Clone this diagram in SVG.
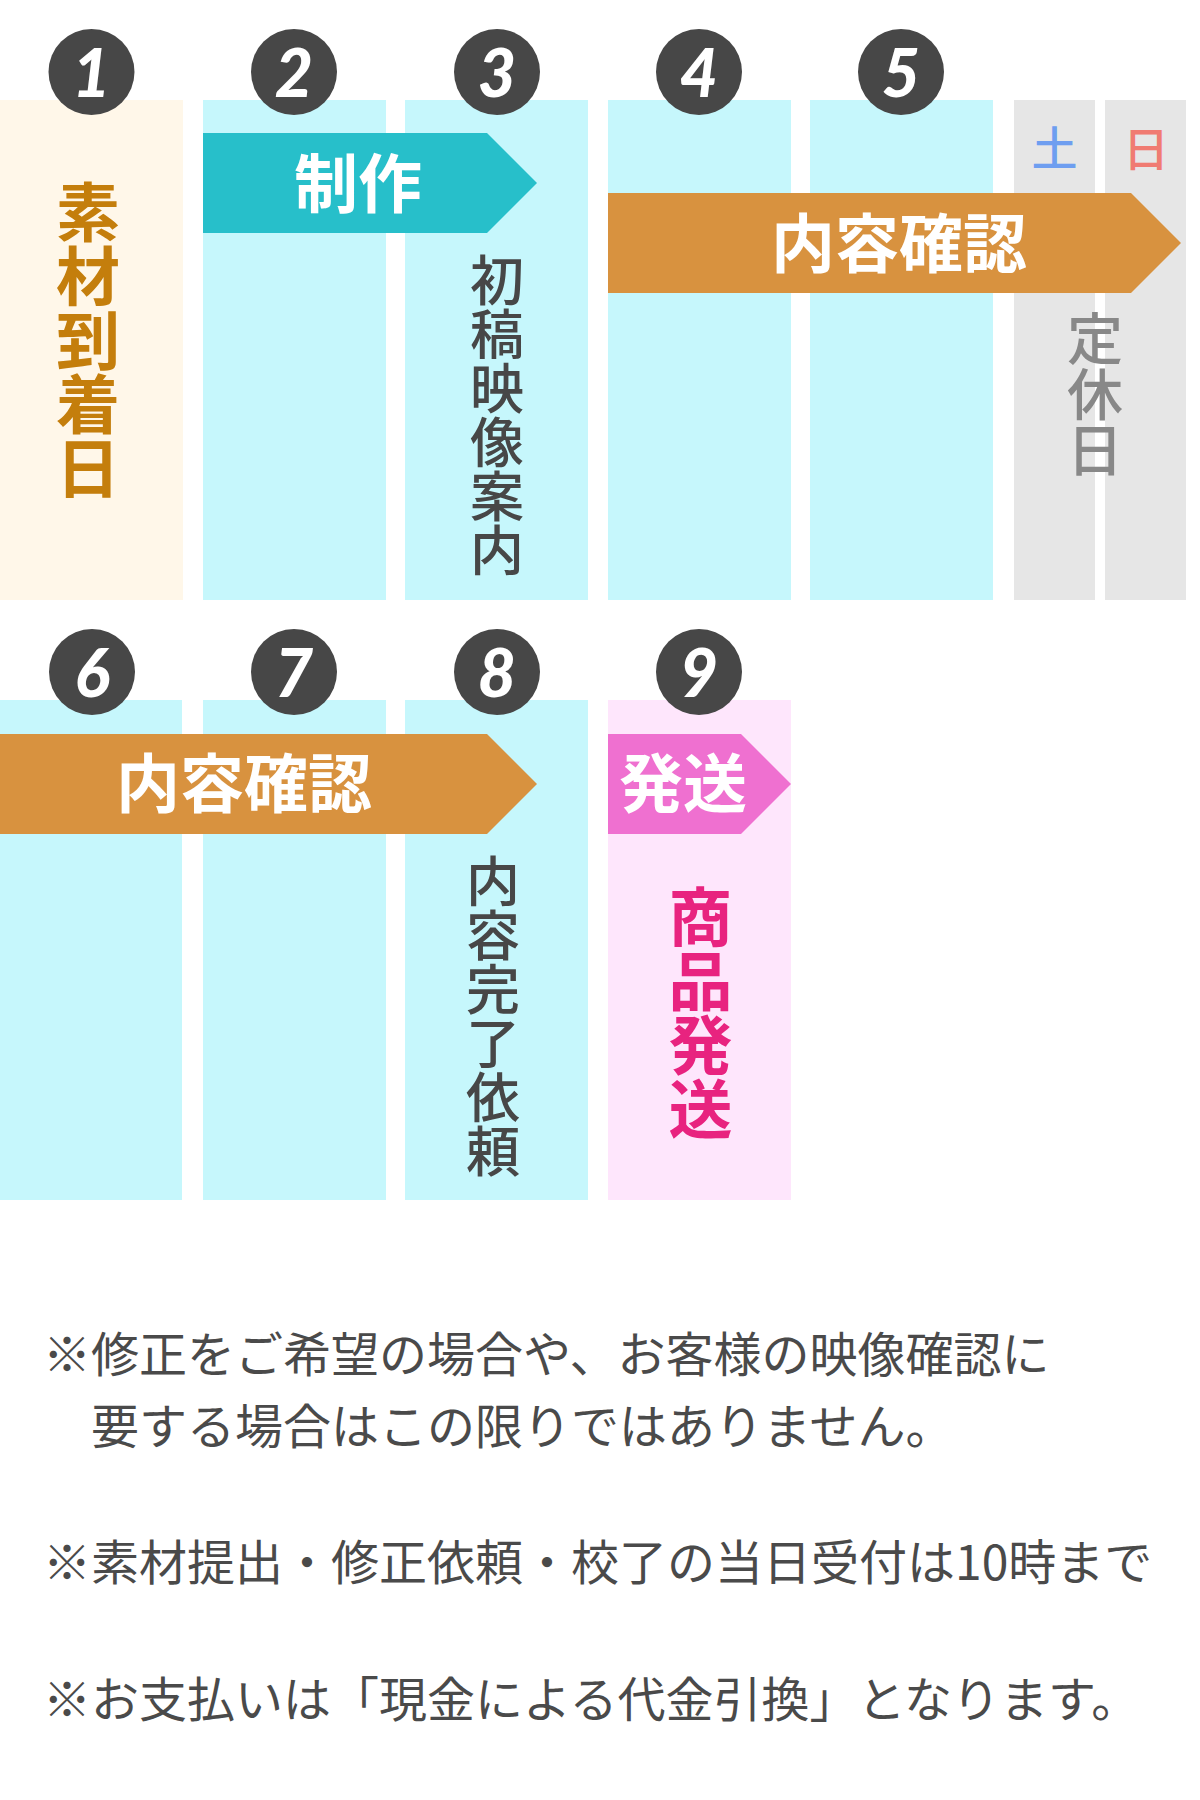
<svg xmlns="http://www.w3.org/2000/svg" width="1200" height="1800" viewBox="0 0 1200 1800">
<style>
.cyan{fill:#c6f7fc}
.beige{fill:#fff7e9}
.pinkcol{fill:#fee6fc}
.gray{fill:#e6e6e6}
.circ{fill:#474747}
.num{font-family:"Lato","Open Sans",sans-serif;font-weight:900;font-style:italic;font-size:66px;fill:#ffffff;text-anchor:middle}
.jp{font-family:"Noto Sans CJK JP","Noto Sans",sans-serif;text-anchor:middle}
.band{font-size:64px;font-weight:700;fill:#ffffff}
.vbold{font-size:64px;font-weight:700}
.vmed{font-size:54px;font-weight:500;fill:#474747}
.note{font-family:"Noto Sans CJK JP","Noto Sans",sans-serif;font-size:48px;font-weight:400;fill:#4a4a4a}
</style>
<rect width="1200" height="1800" fill="#ffffff"/>

<g id="columns-row1">
  <rect class="beige" x="0" y="100" width="183" height="500"/>
  <rect class="cyan" x="203" y="100" width="183" height="500"/>
  <rect class="cyan" x="405" y="100" width="183" height="500"/>
  <rect class="cyan" x="608" y="100" width="183" height="500"/>
  <rect class="cyan" x="810" y="100" width="183" height="500"/>
  <rect class="gray" x="1014" y="100" width="81" height="500"/>
  <rect class="gray" x="1105" y="100" width="81" height="500"/>
</g>
<g id="columns-row2">
  <rect class="cyan" x="0" y="700" width="182" height="500"/>
  <rect class="cyan" x="203" y="700" width="183" height="500"/>
  <rect class="cyan" x="405" y="700" width="183" height="500"/>
  <rect class="pinkcol" x="608" y="700" width="183" height="500"/>
</g>

<g id="step1"><circle class="circ" cx="91.5" cy="72" r="43"/><text class="num" x="91.5" y="97">1</text></g>
<g id="step2"><circle class="circ" cx="294" cy="72" r="43"/><text class="num" x="294" y="97">2</text></g>
<g id="step3"><circle class="circ" cx="497" cy="72" r="43"/><text class="num" x="497" y="97">3</text></g>
<g id="step4"><circle class="circ" cx="699" cy="72" r="43"/><text class="num" x="699" y="97">4</text></g>
<g id="step5"><circle class="circ" cx="901" cy="72" r="43"/><text class="num" x="901" y="97">5</text></g>
<g id="step6"><circle class="circ" cx="92" cy="672" r="43"/><text class="num" x="92" y="697">6</text></g>
<g id="step7"><circle class="circ" cx="294" cy="672" r="43"/><text class="num" x="294" y="697">7</text></g>
<g id="step8"><circle class="circ" cx="497" cy="672" r="43"/><text class="num" x="497" y="697">8</text></g>
<g id="step9"><circle class="circ" cx="699" cy="672" r="43"/><text class="num" x="699" y="697">9</text></g>

<g id="label-sozai">
  <text class="jp vbold" fill="#c47e0c"><tspan x="88" y="236">素</tspan><tspan x="88" y="300">材</tspan><tspan x="88" y="364">到</tspan><tspan x="88" y="428">着</tspan><tspan x="88" y="492">日</tspan></text>
</g>
<g id="label-shokou">
  <text class="jp vmed"><tspan x="497" y="301">初</tspan><tspan x="497" y="355">稿</tspan><tspan x="497" y="409">映</tspan><tspan x="497" y="463">像</tspan><tspan x="497" y="517">案</tspan><tspan x="497" y="571">内</tspan></text>
</g>
<g id="label-holiday">
  <text class="jp" font-size="46" font-weight="500" fill="#6e9ef0" x="1054.5" y="165">土</text>
  <text class="jp" font-size="46" font-weight="500" fill="#f07b72" x="1146" y="166">日</text>
  <text class="jp" font-size="56" font-weight="500" fill="#888888"><tspan x="1095" y="359">定</tspan><tspan x="1095" y="415">休</tspan><tspan x="1095" y="471">日</tspan></text>
</g>
<g id="label-kanryo">
  <text class="jp vmed"><tspan x="493" y="902">内</tspan><tspan x="493" y="956">容</tspan><tspan x="493" y="1010">完</tspan><tspan x="493" y="1064">了</tspan><tspan x="493" y="1118">依</tspan><tspan x="493" y="1172">頼</tspan></text>
</g>
<g id="label-shohin">
  <text class="jp vbold" fill="#e8237f" font-size="62"><tspan x="700.5" y="941">商</tspan><tspan x="700.5" y="1005">品</tspan><tspan x="700.5" y="1069">発</tspan><tspan x="700.5" y="1133">送</tspan></text>
</g>

<g id="connectors">
  <g id="arrow-seisaku">
    <polygon points="203,133 487,133 537,183 487,233 203,233" fill="#27bfca"/>
    <text class="jp band" x="358" y="207">制作</text>
  </g>
  <g id="arrow-kakunin1">
    <polygon points="608,193 1131,193 1181,243 1131,293 608,293" fill="#d8923f"/>
    <text class="jp band" x="899" y="267">内容確認</text>
  </g>
  <g id="arrow-kakunin2">
    <polygon points="0,734 487,734 537,784 487,834 0,834" fill="#d8923f"/>
    <text class="jp band" x="244" y="807">内容確認</text>
  </g>
  <g id="arrow-hassou">
    <polygon points="608,734 741,734 791,784 741,834 608,834" fill="#ef70d0"/>
    <text class="jp band" x="683" y="807">発送</text>
  </g>
</g>

<g id="notes">
  <text class="note" x="43" y="1372">※修正をご希望の場合や、お客様の映像確認に</text>
  <text class="note" x="91" y="1444">要する場合はこの限りではありません。</text>
  <text class="note" x="43" y="1580">※素材提出・修正依頼・校了の当日受付は10時まで</text>
  <text class="note" x="43" y="1717">※お支払いは「現金による代金引換」となります。</text>
</g>
</svg>
